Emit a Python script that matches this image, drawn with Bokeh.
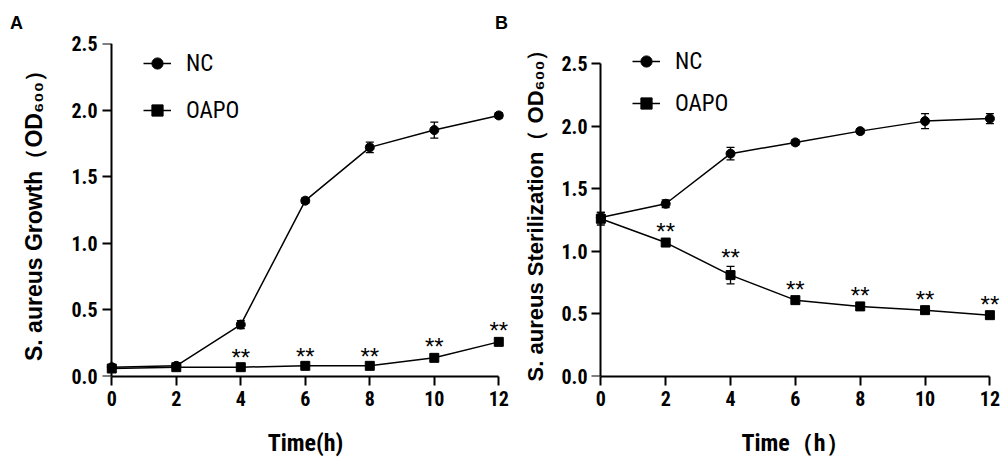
from bokeh.plotting import figure
from bokeh.layouts import row, column
from bokeh.models import (Range1d, FixedTicker, PrintfTickFormatter, Whisker, TeeHead,
                          ColumnDataSource, Legend, LegendItem, LinearAxis, Div)
from bokeh.core.properties import value
from bokeh.embed import file_html
from bokeh.resources import INLINE

time_h = [0, 2, 4, 6, 8, 10, 12]
x_ticks = [0, 2, 4, 6, 8, 10, 12]
y_ticks = [0.0, 0.5, 1.0, 1.5, 2.0, 2.5]

a_nc = [0.07, 0.08, 0.39, 1.32, 1.72, 1.85, 1.96]
a_nc_err = [0.01, 0.01, 0.03, 0.02, 0.04, 0.06, 0.02]
a_oapo = [0.06, 0.07, 0.07, 0.08, 0.08, 0.14, 0.26]
a_oapo_err = [0.01, 0.01, 0.01, 0.01, 0.01, 0.02, 0.02]
a_star = ["", "", "**", "**", "**", "**", "**"]

b_nc = [1.27, 1.38, 1.78, 1.87, 1.96, 2.04, 2.06]
b_nc_err = [0.04, 0.03, 0.05, 0.02, 0.02, 0.06, 0.04]
b_oapo = [1.26, 1.07, 0.81, 0.61, 0.56, 0.53, 0.49]
b_oapo_err = [0.05, 0.02, 0.07, 0.02, 0.02, 0.02, 0.02]
b_star = ["", "**", "**", "**", "**", "**", "**"]

NARROW = "'Roboto Condensed', 'DejaVu Sans Condensed', 'Liberation Sans', sans-serif"
SANS = "Liberation Sans"

HEAD_H = 30


def panel(ylabel, xlabel, nc, nc_err, oapo, oapo_err, stars,
          width, height, left, right, top, bottom, x_end, y_end, leg_xy, leg_spacing,
          ylab_standoff, ytick_standoff, ylab_size):
    p = figure(width=width, height=height, output_backend="svg", toolbar_location=None,
               x_range=Range1d(-0.35, x_end), y_range=Range1d(0, y_end),
               min_border_left=left, min_border_right=right,
               min_border_top=top, min_border_bottom=bottom)
    p.outline_line_color = None
    p.grid.visible = False
    p.background_fill_color = "white"

    src = ColumnDataSource(dict(x=time_h, nc=nc, nc_lo=[v - e for v, e in zip(nc, nc_err)],
                                nc_hi=[v + e for v, e in zip(nc, nc_err)],
                                oa=oapo, oa_lo=[v - e for v, e in zip(oapo, oapo_err)],
                                oa_hi=[v + e for v, e in zip(oapo, oapo_err)],
                                star=stars))

    for lo, hi in (("nc_lo", "nc_hi"), ("oa_lo", "oa_hi")):
        w = Whisker(base="x", lower=lo, upper=hi, source=src, line_color="black",
                    line_width=1.3,
                    upper_head=TeeHead(size=8, line_width=1.3, line_color="black"),
                    lower_head=TeeHead(size=8, line_width=1.3, line_color="black"))
        p.add_layout(w)

    l1 = p.line("x", "nc", source=src, line_color="black", line_width=1.5)
    s1 = p.scatter("x", "nc", source=src, marker="circle", size=9, color="black")
    l2 = p.line("x", "oa", source=src, line_color="black", line_width=1.5)
    s2 = p.scatter("x", "oa", source=src, marker="square", size=9, color="black")

    p.text("x", "oa_hi", text="star", source=src, text_align="center",
           text_baseline="bottom", y_offset=5, text_font=value(SANS),
           text_font_size="24px", text_color="black")

    leg = Legend(items=[LegendItem(label="NC", renderers=[l1, s1]),
                        LegendItem(label="OAPO", renderers=[l2, s2])],
                 location=leg_xy, glyph_width=28, glyph_height=30, label_height=30,
                 label_width=40, spacing=leg_spacing, label_standoff=15, padding=0,
                 margin=0, border_line_alpha=0, background_fill_alpha=0,
                 label_text_font=NARROW, label_text_font_size="23px",
                 label_text_color="black")
    p.add_layout(leg)

    xa = p.xaxis[0]
    xa.ticker = FixedTicker(ticks=x_ticks)
    xa.bounds = (0, 12)

    ya = p.yaxis[0]
    ya.ticker = FixedTicker(ticks=y_ticks)
    ya.formatter = PrintfTickFormatter(format="%.1f")
    ya.axis_line_color = None
    ya.major_tick_line_color = None
    ya.major_tick_in = 0
    ya.major_tick_out = 0
    ya.minor_tick_line_color = None
    ya.major_label_standoff = ytick_standoff

    yr = LinearAxis(ticker=FixedTicker(ticks=y_ticks), fixed_location=0, bounds=(0, 2.5),
                    major_label_text_font_size="0px", major_label_text_alpha=0)
    p.add_layout(yr, "left")

    for ax in (xa, yr):
        ax.axis_line_width = 2
        ax.axis_line_color = "black"
        ax.major_tick_line_width = 2
        ax.major_tick_line_color = "black"
        ax.major_tick_in = 0
        ax.major_tick_out = 9
        ax.minor_tick_line_color = None
    for ax in (xa, ya):
        ax.major_label_text_font = NARROW
        ax.major_label_text_font_style = "bold"
        ax.major_label_text_font_size = "20px"
        ax.major_label_text_color = "black"
        ax.axis_label_text_color = "black"
    xa.major_label_standoff = 5

    xa.axis_label = xlabel
    xa.axis_label_text_font = NARROW
    xa.axis_label_text_font_style = "bold"
    xa.axis_label_text_font_size = "24px"
    xa.axis_label_standoff = 20
    ya.axis_label = ylabel
    ya.axis_label_text_font = SANS
    ya.axis_label_text_font_style = "bold"
    ya.axis_label_text_font_size = ylab_size
    ya.axis_label_standoff = ylab_standoff
    return p


FIG_H = 463 - HEAD_H
TOP = 43 - HEAD_H
pA = panel("S. aureus Growth（OD₆₀₀）", "Time(h)", a_nc, a_nc_err, a_oapo,
           a_oapo_err, a_star, 515, FIG_H, 100, 5, TOP, 87, 12.363, 2.5, (43, 251), 17, 21,
           3, "23px")
pB = panel("S. aureus Sterilization（ OD₆₀₀）", "Time（h）", b_nc, b_nc_err,
           b_oapo, b_oapo_err, b_star, 486, FIG_H, 74, 0, TOP, 87, 12.358, 2.66, (43, 258), 12,
           10, 2, "22px")


def head(letter, width, left):
    return Div(text=(f'<span style="position:relative; left:{left}px; top:13px; '
                     f'font: bold 18px \'Liberation Sans\', sans-serif; color:black; '
                     f'line-height:21px;">{letter}</span>'),
               width=width, height=HEAD_H, margin=0)


heads = row(head("A", 495, 10), head("B", 506, 0))
layout = column(heads, row(pA, pB))
open("out.html", "w").write(file_html(layout, INLINE))
